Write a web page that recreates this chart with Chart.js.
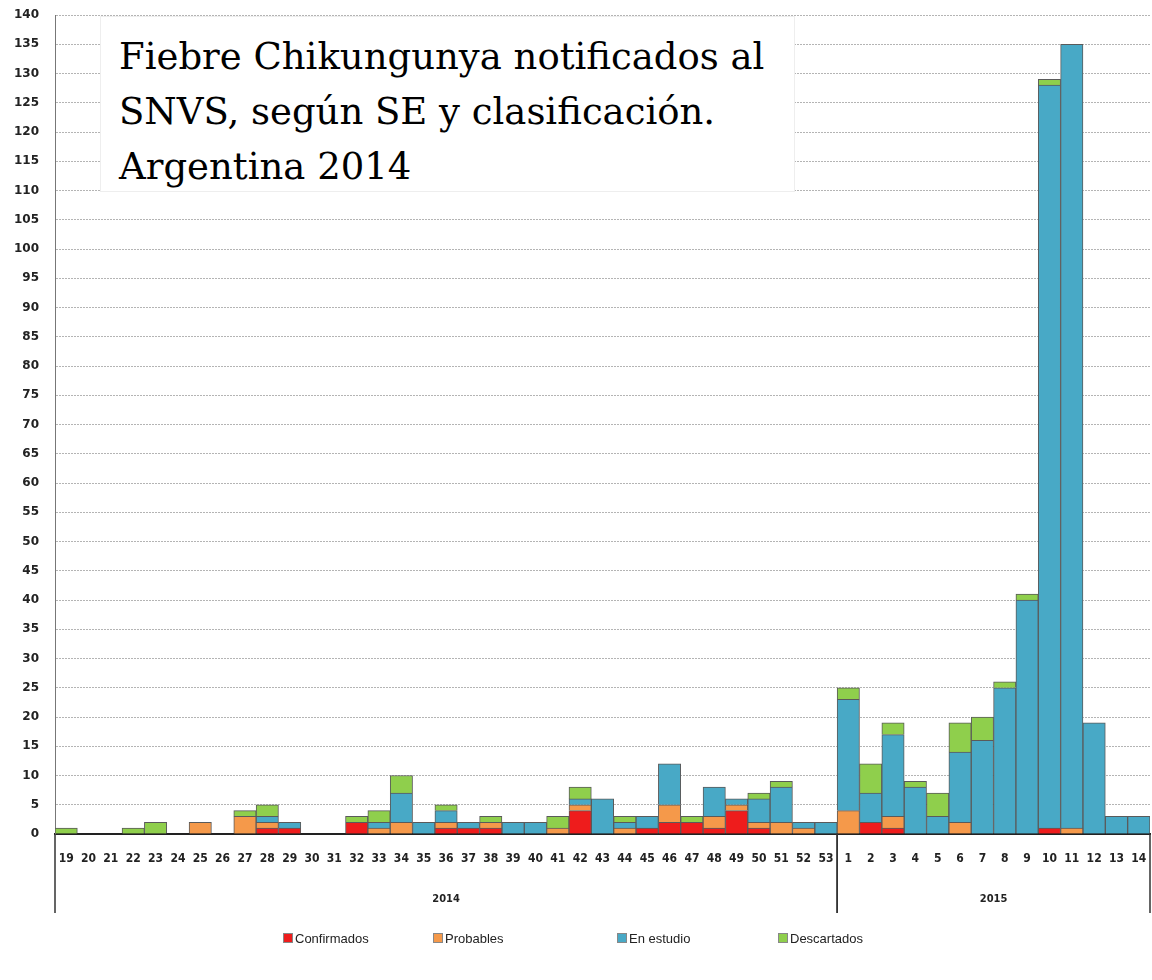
<!DOCTYPE html>
<html>
<head>
<meta charset="utf-8">
<script src="https://cdn.jsdelivr.net/npm/chart.js@4"></script>
<style>
    body { margin: 0; background: #fff; }
    #wrap { position: relative; width: 1152px; height: 980px; }
    #titleBox {
        position: absolute; left: 100px; top: 16px; width: 695px; height: 176px;
        background: #fff; box-sizing: border-box; padding: 12px 0 0 18px;
        font-family: 'DejaVu Serif', 'Liberation Serif', serif; font-size: 37px;
        line-height: 55px; color: #000; border: 1px solid #eee;
    }
    #legend {
        position: absolute; left: 0; top: 931px; width: 1152px; height: 20px;
        font-family: 'Liberation Sans', Arial, sans-serif; font-size: 13px; color: #222;
    }
    #legend div { position: absolute; top: 0; white-space: nowrap; }
    #legend span.box { display: inline-block; width: 8px; height: 8px; margin-right: 2px; border: 1px solid #888; }
</style>
</head>
<body>
<div id="wrap">
    <canvas id="chart"></canvas>
    <div id="titleBox">Fiebre Chikungunya notificados al<br>SNVS, según SE y clasificación.<br>Argentina 2014</div>
    <div id="legend"></div>
</div>
<script>
const weeks = ['19','20','21','22','23','24','25','26','27','28','29','30','31','32','33','34','35','36',
    '37','38','39','40','41','42','43','44','45','46','47','48','49','50','51','52','53',
    '1','2','3','4','5','6','7','8','9','10','11','12','13','14'];

const confirmados = [0,0,0,0,0,0,0,0,0,1,1,0,0,2,0,0,0,1,
    1,1,0,0,0,4,0,0,1,2,2,1,4,1,0,0,0,
    0,2,1,0,0,0,0,0,0,1,0,0,0,0];
const probables = [0,0,0,0,0,0,2,0,3,1,0,0,0,0,1,2,0,1,
    0,1,0,0,1,1,0,1,0,3,0,2,1,1,2,1,0,
    4,0,2,0,0,2,0,0,0,0,1,0,0,0];
const enEstudio = [0,0,0,0,0,0,0,0,0,1,1,0,0,0,1,5,2,2,
    1,0,2,2,0,1,6,1,2,7,0,5,1,4,6,1,2,
    19,5,14,8,3,12,16,25,40,127,134,19,3,3];
const descartados = [1,0,0,1,2,0,0,0,1,2,0,0,0,1,2,3,0,1,
    0,1,0,0,2,2,0,1,0,0,1,0,0,1,1,0,0,
    2,5,2,1,4,5,4,1,1,1,0,0,0,0];

const years = ['2014', '2015'];
const weeksPerYear = [35, 14];

const yTicks = { min: 0, max: 140, step: 5 };

const tickFont = "'Liberation Sans Narrow', 'DejaVu Sans Condensed', 'Liberation Sans', sans-serif";

// where each legend entry starts (px from the left)
const legendLeft = [283, 433, 617, 778];

// year labels and separators under the week numbers
const yearAxisPlugin = {
    id: 'yearAxis',
    afterDraw(chart) {
        const ctx = chart.ctx;
        const x = chart.scales.x;
        const bottom = chart.chartArea.bottom;
        const half = (x.getPixelForValue(1) - x.getPixelForValue(0)) / 2;
        let start = 0;
        ctx.save();
        ctx.strokeStyle = '#333';
        ctx.lineWidth = 1.5;
        ctx.fillStyle = '#222';
        ctx.font = 'bold 11px ' + tickFont;
        ctx.textAlign = 'center';
        ctx.textBaseline = 'middle';
        years.forEach((yr, i) => {
            const left = x.getPixelForValue(start) - half;
            const right = x.getPixelForValue(start + weeksPerYear[i] - 1) + half;
            ctx.beginPath();
            ctx.moveTo(left, bottom);
            ctx.lineTo(left, 913);
            ctx.moveTo(right, bottom);
            ctx.lineTo(right, 913);
            ctx.stroke();
            ctx.fillText(yr, (left + right) / 2, 899);
            start += weeksPerYear[i];
        });
        ctx.restore();
    }
};

function makeSet(label, data, color) {
    return {
        label: label,
        data: data,
        backgroundColor: color,
        borderColor: '#5a5a5a',
        borderWidth: 1,
        barPercentage: 1.0,
        categoryPercentage: 1.0
    };
}

const ctx = document.getElementById('chart').getContext('2d');
const chart = new Chart(ctx, {
    type: 'bar',
    data: {
        labels: weeks,
        datasets: [
            makeSet('Confirmados', confirmados, '#ee1c1c'),
            makeSet('Probables', probables, '#f5994a'),
            makeSet('En estudio', enEstudio, '#48a9c6'),
            makeSet('Descartados', descartados, '#8fcf4c')
        ]
    },
    options: {
        responsive: true,
        maintainAspectRatio: false,
        animation: false,
        layout: { padding: { top: 15, right: 2, left: 0, bottom: 0 } },
        plugins: {
            legend: { display: false },
            tooltip: { enabled: false }
        },
        scales: {
            x: {
                stacked: true,
                grid: { display: false },
                border: { display: true, color: '#222', width: 2 },
                ticks: {
                    autoSkip: false, maxRotation: 0, padding: 10,
                    color: '#222',
                    font: { family: tickFont, size: 12, weight: 'bold' }
                },
                afterFit(scale) {
                    scale.height = 146;
                    scale.paddingLeft = 0;
                    scale.paddingRight = 0;
                }
            },
            y: {
                stacked: true,
                min: yTicks.min,
                max: yTicks.max,
                grid: {
                    color: '#b4b4b4',
                    lineWidth: 1,
                    drawTicks: false
                },
                border: { display: true, color: '#777', width: 1, dash: [2, 1] },
                ticks: {
                    stepSize: yTicks.step,
                    padding: 16,
                    color: '#222',
                    font: { family: "'DejaVu Sans', 'Liberation Sans', sans-serif", size: 12, weight: 'bold' }
                },
                afterFit(scale) {
                    scale.width = 55;
                    scale.paddingTop = 0;
                    scale.paddingBottom = 0;
                }
            }
        }
    },
    plugins: [yearAxisPlugin]
});

// html legend built from the datasets
const legendDiv = document.getElementById('legend');
chart.data.datasets.forEach((ds, i) => {
    const item = document.createElement('div');
    item.style.left = legendLeft[i] + 'px';
    item.innerHTML = `<span class="box" style="background:${ds.backgroundColor}"></span>${ds.label}`;
    legendDiv.appendChild(item);
});
</script>
</body>
</html>
